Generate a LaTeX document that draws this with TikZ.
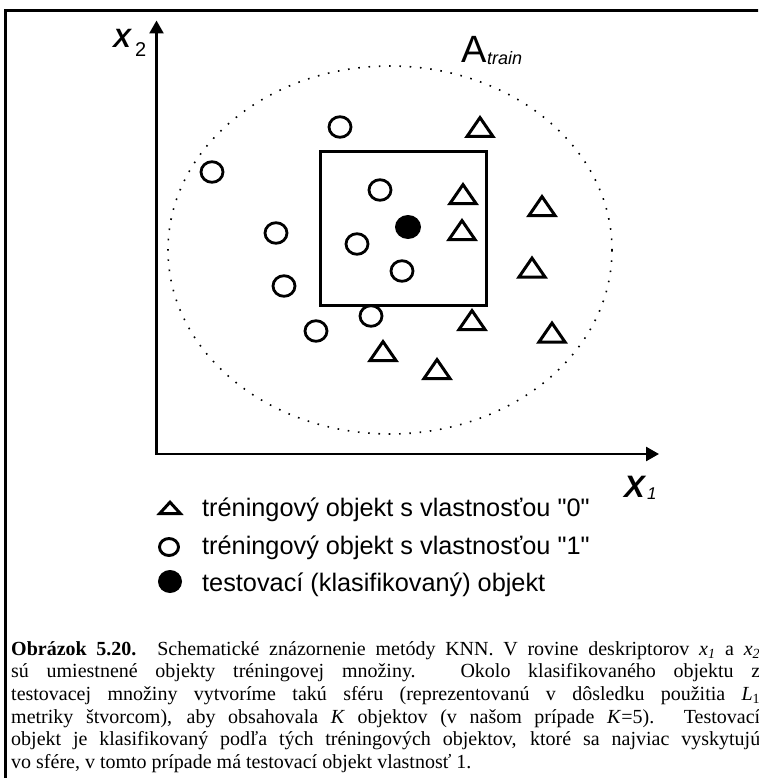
\documentclass[tikz,border=0pt]{standalone}
\usepackage{fontspec}
\setmainfont{Liberation Serif}
\newfontfamily\sansf{Liberation Sans}
\usetikzlibrary{arrows.meta,shapes.geometric}
\tikzset{
  circ/.style={draw,ellipse,line width=2.8pt,minimum width=22pt,minimum height=20.6pt,inner sep=0pt},
  fcirc/.style={fill,ellipse,minimum width=26pt,minimum height=24pt,inner sep=0pt},
  lcirc/.style={draw,ellipse,line width=2.9pt,minimum width=19pt,minimum height=17pt,inner sep=0pt},
  lfcirc/.style={fill,ellipse,minimum width=24pt,minimum height=23pt,inner sep=0pt},
  tri/.pic={\draw[line width=3pt,line join=miter] (0,-8.9) -- (13,10) -- (-13,10) -- cycle;},
  ltri/.pic={\draw[line width=3pt,line join=miter] (0,-5.3) -- (10.3,6) -- (-10.3,6) -- cycle;},
  legtext/.style={anchor=base west,inner sep=0pt,font=\sansf\fontsize{25.3}{28}\selectfont},
  capline/.style={anchor=base west,inner sep=0pt,font=\fontsize{20}{22}\selectfont},
  lbl/.style={anchor=base west,inner sep=0pt}
}
\begin{document}
\begin{tikzpicture}[x=1pt,y=-1pt]
\useasboundingbox (0,0) rectangle (758,778);
\clip (0,0) rectangle (758,778);
% frame
\draw[line width=2.4pt] (5.5,790) -- (5.5,10.5) -- (770,10.5);
% axes
\coordinate (ytip) at (156.5,20.5);
\coordinate (O) at (156.5,454);
\coordinate (xtip) at (659,454);
\draw[line width=2.6pt,line join=miter,{Triangle[length=13pt,width=14pt]}-{Triangle[length=13pt,width=14pt]}] (ytip) -- (O) -- (xtip);
% axis labels
\node[lbl,font=\sansf\bfseries\itshape\fontsize{26.5}{30}\selectfont] (x2X) at (113,48) {X};
\node[lbl,font=\sansf\fontsize{20}{24}\selectfont] (x2s) at (135,57) {2};
\node[lbl,font=\sansf\bfseries\itshape\fontsize{31}{34}\selectfont] (x1X) at (624,497) {X};
\node[lbl,font=\sansf\itshape\fontsize{17}{20}\selectfont] (x1s) at (647,499) {1};
% A train
\draw[line width=1.6pt,dash pattern=on 1.6pt off 8.7pt] (390,250) ellipse [x radius=222, y radius=184];
\node[lbl,font=\sansf\fontsize{38}{40}\selectfont] (A) at (461,63) {A};
\node[lbl,font=\sansf\itshape\fontsize{18}{20}\selectfont] (Asub) at (487,65) {train};
% square
\node[draw,line width=2.7pt,minimum width=166pt,minimum height=154pt,inner sep=0pt] (sq) at (403.5,228.5) {};
% circles
\node[circ] (c1) at (340,127) {};
\node[circ] (c2) at (212,172) {};
\node[circ] (c3) at (380,190) {};
\node[circ] (c4) at (276,233) {};
\node[circ] (c5) at (357,244) {};
\node[circ] (c6) at (402,271) {};
\node[circ] (c7) at (284,286) {};
\node[circ] (c8) at (371,316) {};
\node[circ] (c9) at (316,331) {};
\node[fcirc] (test) at (408,227) {};
% triangles
\pic (t1) at (480,126.5) {tri};
\pic (t2) at (463,193.5) {tri};
\pic (t3) at (542,205.5) {tri};
\pic (t4) at (462,229.5) {tri};
\pic (t5) at (532,267) {tri};
\pic (t6) at (472,319.5) {tri};
\pic (t7) at (552,332) {tri};
\pic (t8) at (383,350.5) {tri};
\pic (t9) at (437,368.5) {tri};
% legend
\pic (lt) at (170,507.5) {ltri};
\node[lcirc] (lc) at (169,547) {};
\node[lfcirc] (lf) at (170,581.5) {};
\node[legtext] (l1) at (202,516) {tréningový objekt s vlastnosťou "0"};
\node[legtext] (l2) at (202,554) {tréningový objekt s vlastnosťou "1"};
\node[legtext] (l3) at (202,591) {testovací (klasifikovaný) objekt};
% caption
\node[capline] (cap1) at (11,655) {\makebox[749pt][s]{\textbf{Obrázok 5.20.} Schematické znázornenie metódy KNN. V rovine deskriptorov \textit{x\textsubscript{1}} a \textit{x\textsubscript{2}}}};
\node[capline] (cap2) at (11,677.7) {\makebox[749pt][s]{sú umiestnené objekty tréningovej množiny. Okolo klasifikovaného objektu z}};
\node[capline] (cap3) at (11,700.4) {\makebox[749pt][s]{testovacej množiny vytvoríme takú sféru (reprezentovanú v dôsledku použitia \textit{L}\textsubscript{1}}};
\node[capline] (cap4) at (11,723.1) {\makebox[749pt][s]{metriky štvorcom), aby obsahovala \textit{K} objektov (v našom prípade \textit{K}=5). Testovací}};
\node[capline] (cap5) at (11,745.8) {\makebox[749pt][s]{objekt je klasifikovaný podľa tých tréningových objektov, ktoré sa najviac vyskytujú}};
\node[capline] (cap6) at (11,768.5) {vo sfére, v tomto prípade má testovací objekt vlastnosť 1.};
\end{tikzpicture}
\end{document}
